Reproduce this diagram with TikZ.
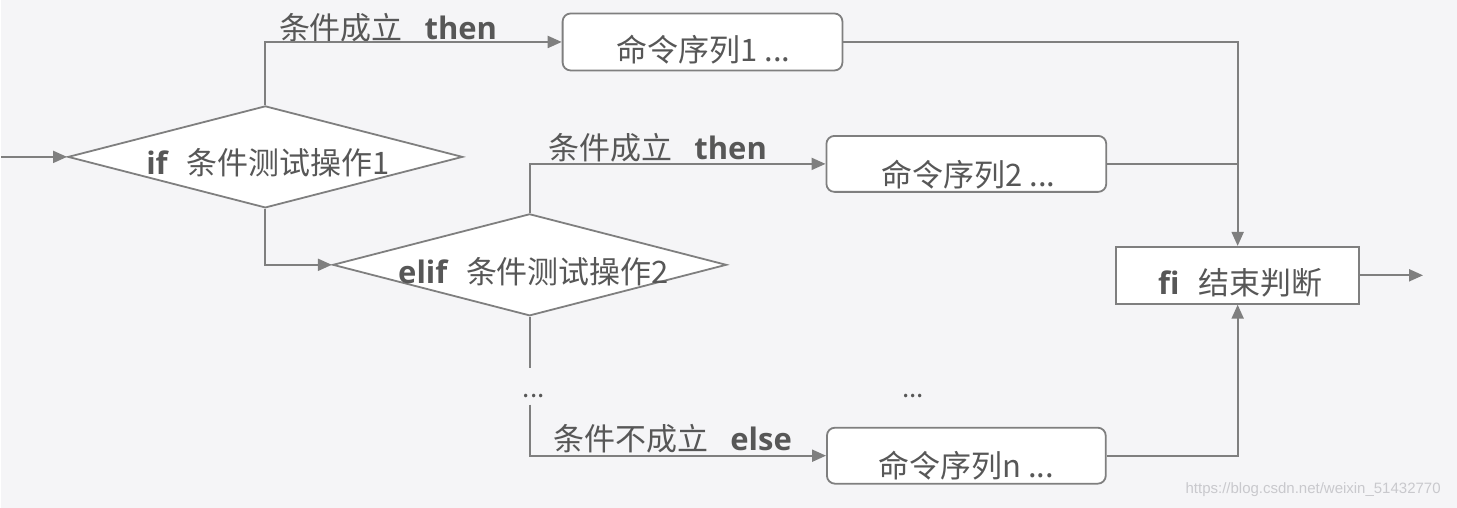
\documentclass[tikz,border=0pt]{standalone}
\usepackage{fontspec}
\usetikzlibrary{arrows.meta,shapes.geometric}
\newfontfamily\cjk{Noto Sans CJK SC}
\newfontfamily\kwfont{Open Sans}
\newfontfamily\urlfont{Liberation Sans}
\newcommand{\kwd}[1]{{\kwfont\bfseries #1}}
\definecolor{bgc}{HTML}{F5F5F7}
\definecolor{lnc}{HTML}{7F7F7F}
\definecolor{txc}{HTML}{575757}
\definecolor{wmc}{HTML}{C9C9CD}
\begin{document}
\begin{tikzpicture}[x=1pt,y=-1pt,
  conn/.style={draw=lnc,line width=2pt},
  arr/.style={conn,-{Triangle[length=14pt,width=12pt]}},
  cmdbox/.style={draw=lnc,line width=1.8pt,fill=white,rounded corners=8pt,inner sep=0pt},
  endbox/.style={draw=lnc,line width=1.8pt,fill=white,inner sep=0pt},
  decision/.style={draw=lnc,line width=1.8pt,fill=white,diamond,inner sep=0pt,aspect=3.87},
  lbl/.style={text=txc,font=\cjk\fontsize{31}{34}\selectfont,inner sep=0pt},
  dotlbl/.style={text=txc,font=\cjk\fontsize{26}{28}\selectfont,inner sep=0pt},
]
\fill[bgc] (0,0) rectangle (1457,508);

% shapes
\node[decision,minimum width=395pt,minimum height=102pt] (d1) at (264.5,157) {};
\node[decision,minimum width=394pt,minimum height=102pt] (d2) at (529,265) {};
\node[cmdbox,minimum width=280pt,minimum height=57pt] (box1) at (702,42) {};
\node[cmdbox,minimum width=280pt,minimum height=56pt] (box2) at (966,164) {};
\node[cmdbox,minimum width=279pt,minimum height=56pt] (boxn) at (966,456) {};
\node[endbox,minimum width=243pt,minimum height=57pt] (fi) at (1237.5,275.5) {};

% texts inside shapes
\node[lbl,anchor=base] (t1) at (267,175) {\kwd{if}\hspace{0.6em}条件测试操作1};
\node[lbl,anchor=base] (t2) at (533,284) {\kwd{elif}\hspace{0.6em}条件测试操作2};
\node[lbl,anchor=base] (tb1) at (703,62) {命令序列1 ...};
\node[lbl,anchor=base] (tb2) at (968,187) {命令序列2 ...};
\node[lbl,anchor=base] (tbn) at (966,478) {命令序列n ...};
\node[lbl,anchor=base] (tfi) at (1240,295) {\kwd{fi}\hspace{0.6em}结束判断};

% edge labels
\node[lbl,anchor=base west] (l1) at (278,40) {条件成立\hspace{0.7em}\kwd{then}};
\node[lbl,anchor=base west] (l2) at (548,160) {条件成立\hspace{0.7em}\kwd{then}};
\node[lbl,anchor=base west] (l3) at (553,451) {条件不成立\hspace{0.7em}\kwd{else}};

% dots
\node[dotlbl,anchor=base] (dotsL) at (533,398) {...};
\node[dotlbl,anchor=base] (dotsM) at (913,398) {...};

% free ends
\coordinate (inp) at (0,157);
\coordinate (gapTop) at (529,368);
\coordinate (gapBot) at (529,405);
\coordinate (outp) at (1423,275.5);

% connectors
\draw[arr] (inp) -- (d1.west);
\draw[arr] (d1.north) |- (box1.west);
\draw[arr] (d1.south) |- (d2.west);
\draw[arr] (d2.north) |- (box2.west);
\draw[conn] (d2.south) -- (gapTop);
\draw[arr] (gapBot) |- (boxn.west);
\draw[arr] (box1.east) -| (fi.north);
\draw[conn] (box2.east) -- (box2.east -| fi.north);
\draw[arr] (boxn.east) -| (fi.south);
\draw[arr] (fi.east) -- (outp);

% watermark
\node[text=wmc,font=\urlfont\fontsize{15}{17}\selectfont,inner sep=0pt] (wm) at (1313,490) {https://blog.csdn.net/weixin\_51432770};
\end{tikzpicture}
\end{document}
